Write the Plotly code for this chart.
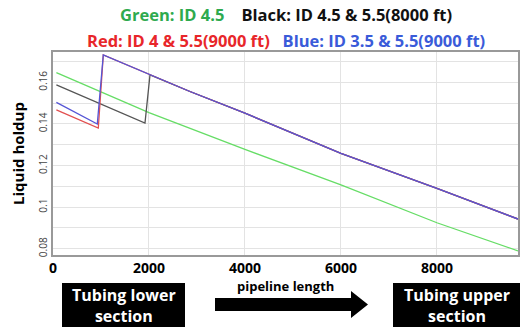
import plotly.graph_objects as go

# ---- data ----
green_x = [70, 2000, 4000, 6000, 8000, 9690]
green_y = [0.1647, 0.1455, 0.1278, 0.1107, 0.0925, 0.0790]

blue_x = [70, 923, 1048, 2021, 2854, 4000, 6000, 8000, 9690]
blue_y = [0.1504, 0.1400, 0.1732, 0.1636, 0.1556, 0.1452, 0.1259, 0.1090, 0.0943]

red_x = [70, 944, 1048, 2021, 2854, 4000, 6000, 8000, 9690]
red_y = [0.1468, 0.1380, 0.1732, 0.1636, 0.1556, 0.1452, 0.1259, 0.1090, 0.0943]

black_x = [70, 1917, 2021, 2854, 4000, 6000, 8000, 9690]
black_y = [0.1588, 0.1404, 0.1636, 0.1556, 0.1452, 0.1259, 0.1090, 0.0943]

x_ticks = [0, 2000, 4000, 6000, 8000]
y_tickvals = [0.08, 0.09, 0.10, 0.11, 0.12, 0.13, 0.14, 0.15, 0.16, 0.17]
y_ticktext = ["0.08", "", "0.1", "", "0.12", "", "0.14", "", "0.16", ""]

title_line1 = ("<span style='color:#2eaa4e'>Green: ID 4.5</span>"
               "&nbsp;&nbsp;&nbsp;&nbsp;<span style='color:#111111'>Black: ID 4.5 &amp; 5.5(8000 ft)</span>")
title_line2 = ("<span style='color:#e8262a'>Red: ID 4 &amp; 5.5(9000 ft)</span>"
               "&nbsp;&nbsp;&nbsp;<span style='color:#3a5bd9'>Blue: ID 3.5 &amp; 5.5(9000 ft)</span>")

W, H = 525, 327
L, R, T, B = 53, 7, 52, 72
pw, ph = W - L - R, H - T - B


def px(x):
    return (x - L) / pw


def py(y):
    return (H - B - y) / ph


FONT = "Open Sans, Noto Sans, DejaVu Sans, sans-serif"

fig = go.Figure()
fig.add_trace(go.Scatter(x=green_x, y=green_y, mode="lines", line=dict(color="#66dd66", width=1.3)))
fig.add_trace(go.Scatter(x=black_x, y=black_y, mode="lines", line=dict(color="#555555", width=1.3)))
fig.add_trace(go.Scatter(x=red_x, y=red_y, mode="lines", line=dict(color="#e25050", width=1.3)))
fig.add_trace(go.Scatter(x=blue_x, y=blue_y, mode="lines", line=dict(color="#5555d5", width=1.3)))

shapes = [
    dict(type="rect", xref="paper", yref="paper", x0=px(62), x1=px(185), y0=py(283), y1=py(330),
         fillcolor="black", line=dict(width=0)),
    dict(type="rect", xref="paper", yref="paper", x0=px(393), x1=px(520), y0=py(283), y1=py(330),
         fillcolor="black", line=dict(width=0)),
    dict(type="path", xref="paper", yref="paper",
         path=(f"M {px(215)},{py(298)} L {px(351)},{py(298)} L {px(351)},{py(291)} "
               f"L {px(368)},{py(304.5)} L {px(351)},{py(318)} L {px(351)},{py(311)} "
               f"L {px(215)},{py(311)} Z"),
         fillcolor="black", line=dict(width=0)),
]

annotations = [
    dict(text=title_line1, xref="paper", yref="paper", x=px(286), y=py(14), showarrow=False,
         font=dict(family=FONT, size=16.5, color="black", weight="bold"), xanchor="center", yanchor="middle"),
    dict(text=title_line2, xref="paper", yref="paper", x=px(286), y=py(40), showarrow=False,
         font=dict(family=FONT, size=16.5, color="black", weight="bold"), xanchor="center", yanchor="middle"),
    dict(text="Tubing lower<br>section", xref="paper", yref="paper", x=px(123.5), y=py(305), showarrow=False,
         font=dict(family=FONT, size=16, color="white", weight="bold"), xanchor="center", yanchor="middle"),
    dict(text="Tubing upper<br>section", xref="paper", yref="paper", x=px(456.5), y=py(305), showarrow=False,
         font=dict(family=FONT, size=16, color="white", weight="bold"), xanchor="center", yanchor="middle"),
    dict(text="pipeline length", xref="paper", yref="paper", x=px(285), y=py(286), showarrow=False,
         font=dict(family=FONT, size=13, color="black", weight="bold"), xanchor="center", yanchor="middle"),
]

fig.update_layout(
    width=W, height=H,
    margin=dict(l=L, r=R, t=T, b=B),
    paper_bgcolor="white", plot_bgcolor="white",
    showlegend=False,
    shapes=shapes, annotations=annotations,
    xaxis=dict(range=[0, 9690], tickvals=x_ticks, ticks="", showgrid=True, gridcolor="#e3e3e3",
               zeroline=False, showline=True, linecolor="#999999", linewidth=1.5, mirror=True,
               automargin=False, ticklabelstandoff=-1,
               tickfont=dict(family=FONT, size=14, color="black", weight="bold")),
    yaxis=dict(range=[0.077, 0.1746], tickvals=y_tickvals, ticktext=y_ticktext, tickangle=-90,
               ticks="", showgrid=True, gridcolor="#e3e3e3", zeroline=False, showline=True,
               linecolor="#999999", linewidth=1.5, mirror=True, automargin=False,
               tickfont=dict(family=FONT, size=10, color="#444444"),
               title=dict(text="Liquid holdup", standoff=8,
                          font=dict(family=FONT, size=15, color="black", weight="bold"))),
)

fig.write_html("out.html", config={"displayModeBar": False},
               post_script="document.body.style.margin='0';document.body.style.padding='0';")
